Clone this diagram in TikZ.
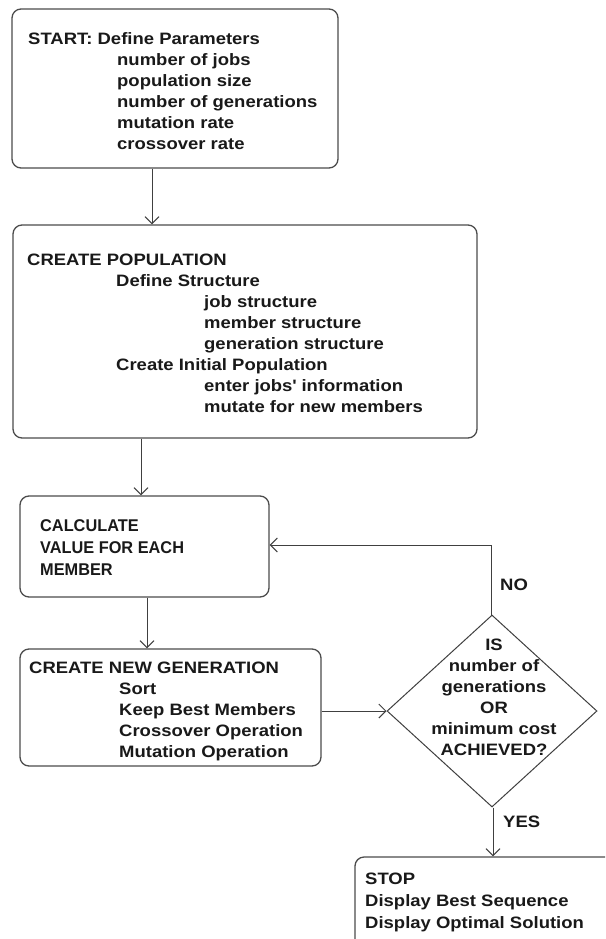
\documentclass[tikz,border=0pt]{standalone}
\usepackage{fontspec}
\setmainfont{Liberation Sans}[FakeStretch=1.12]
\newfontfamily\condfont{Liberation Sans}[FakeStretch=0.96]
\usetikzlibrary{arrows.meta,shapes.geometric}

\tikzset{
  stepbox/.style={draw=black!70, line width=1.3pt, rounded corners=9pt,
    inner sep=0pt, fill=white},
  txt/.style={anchor=base west, inner sep=0pt,
    font=\fontsize{16.5}{21}\selectfont\bfseries, text=black!90},
  ctxt/.style={txt, anchor=base},
  flow/.style={draw=black!75, line width=1pt,
    -{Straight Barb[length=7pt,width=14pt,line width=1pt]}},
}

\begin{document}
\begin{tikzpicture}[x=1pt, y=-1pt]
  \useasboundingbox (0,0) rectangle (605,939);
  \clip (0,0) rectangle (605,939);
  \fill[white] (0,0) rectangle (605,939);

  % boxes of the flow chart
  \node[stepbox, minimum width=326, minimum height=159] (params) at (175,88.5) {};
  \node[stepbox, minimum width=464, minimum height=213] (create) at (245,331.5) {};
  \node[stepbox, minimum width=249, minimum height=101] (calc) at (144.5,546.5) {};
  \node[stepbox, minimum width=301, minimum height=117] (newgen) at (170.5,707.5) {};
  \node[draw=black!75, line width=1pt, shape=diamond, inner sep=0pt,
        minimum width=210, minimum height=192] (test) at (492,711) {};
  \node[stepbox, minimum width=400, minimum height=200] (stop) at (555,957) {};

  % texts inside the boxes
  \node[txt] (paramstext) at (28,45) {\begin{tabular}[t]{@{}l@{}}
    START: Define Parameters\\
    \hspace*{89pt}number of jobs\\
    \hspace*{89pt}population size\\
    \hspace*{89pt}number of generations\\
    \hspace*{89pt}mutation rate\\
    \hspace*{89pt}crossover rate
  \end{tabular}};

  \node[txt] (createtext) at (27,265) {\begin{tabular}[t]{@{}l@{}}
    CREATE POPULATION\\
    \hspace*{89pt}Define Structure\\
    \hspace*{177pt}job structure\\
    \hspace*{177pt}member structure\\
    \hspace*{177pt}generation structure\\
    \hspace*{89pt}Create Initial Population\\
    \hspace*{177pt}enter jobs\textquotesingle{} information\\
    \hspace*{177pt}mutate for new members
  \end{tabular}};

  \node[txt, font=\fontsize{17}{22}\selectfont\condfont\bfseries] (calctext) at (40,531)
    {\begin{tabular}[t]{@{}l@{}}
    CALCULATE\\
    VALUE FOR EACH\\
    MEMBER
  \end{tabular}};

  \node[txt] (newgentext) at (29,673) {\begin{tabular}[t]{@{}l@{}}
    CREATE NEW GENERATION\\
    \hspace*{90pt}Sort\\
    \hspace*{90pt}Keep Best Members\\
    \hspace*{90pt}Crossover Operation\\
    \hspace*{90pt}Mutation Operation
  \end{tabular}};

  \node[ctxt] (testtext) at (494,650) {\begin{tabular}[t]{@{}c@{}}
    IS\\
    number of\\
    generations\\
    OR\\
    minimum cost\\
    ACHIEVED?
  \end{tabular}};

  \node[txt, font=\fontsize{16.5}{22}\selectfont\bfseries] (stoptext) at (365,884)
    {\begin{tabular}[t]{@{}l@{}}
    STOP\\
    Display Best Sequence\\
    Display Optimal Solution
  \end{tabular}};

  % connectors
  \draw[flow] ([xshift=-23pt]params.south) -- ([xshift=-23pt]params.south |- create.north);
  \draw[flow] ([xshift=-104pt]create.south) -- ([xshift=-104pt]create.south |- calc.north);
  \draw[flow] ([xshift=2.5pt]calc.south) -- ([xshift=2.5pt]calc.south |- newgen.north);
  \draw[flow] (newgen.east |- test.west) -- (test.west);
  \coordinate (loopcorner) at (491,545);
  \draw[flow] ([xshift=-1pt]test.north) -- (loopcorner) -- (calc.east |- loopcorner);
  \draw[flow] ([xshift=1pt]test.south) -- ([xshift=1pt]test.south |- stop.north);

  % branch labels
  \node[txt] (nolabel) at (500,590) {NO};
  \node[txt] (yeslabel) at (503,827) {YES};
\end{tikzpicture}
\end{document}
